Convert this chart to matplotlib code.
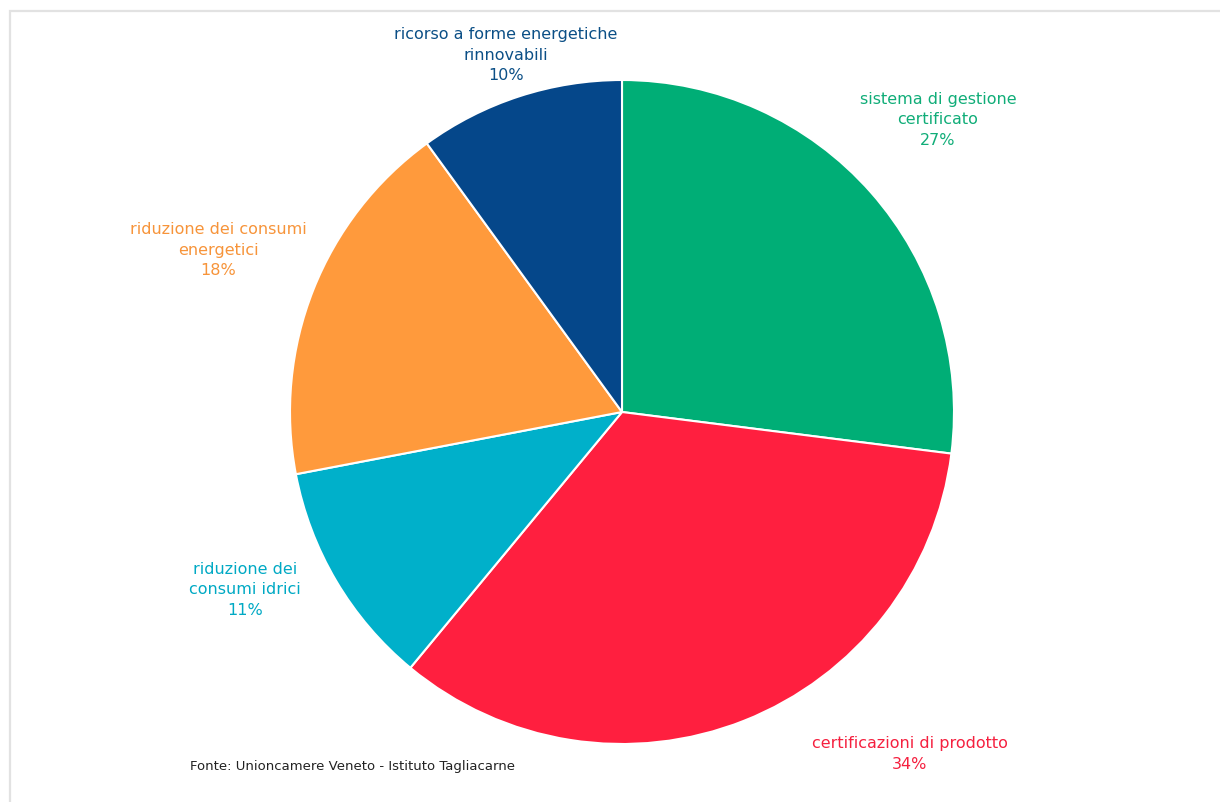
import matplotlib.pyplot as plt
from matplotlib.patches import Rectangle

# Quote delle certificazioni / azioni ambientali
categories = [
    "sistema di gestione\ncertificato",
    "certificazioni di prodotto",
    "riduzione dei\nconsumi idrici",
    "riduzione dei consumi\nenergetici",
    "ricorso a forme energetiche\nrinnovabili",
]
shares = [27, 34, 11, 18, 10]
colors = ["#00ae76", "#ff1f3f", "#00b0ca", "#ff9a3c", "#05478a"]
text_colors = ["#10ad78", "#f5203f", "#00a9c4", "#f7943a", "#0b4f86"]

# label anchors in pixel space (centre of the text block)
label_pos = [(938, 683), (910, 49), (245, 213), (218, 553), (506, 748)]

W, H = 1220, 803
fig = plt.figure(figsize=(W / 100, H / 100), dpi=100)
ax = fig.add_axes([0, 0, 1, 1])

ax.pie(
    shares,
    colors=colors,
    startangle=90,
    counterclock=False,
    center=(622, 390),
    radius=332,
    wedgeprops=dict(edgecolor="white", linewidth=1.5),
    frame=True,
)
ax.set_xlim(0, W)
ax.set_ylim(0, H)
ax.set_aspect("equal")
ax.axis("off")

for cat, val, col, (x, y) in zip(categories, shares, text_colors, label_pos):
    ax.text(x, y, f"{cat}\n{val}%", ha="center", va="center",
            color=col, fontsize=11.5, family="DejaVu Sans",
            linespacing=1.42)

ax.text(190, 36, "Fonte: Unioncamere Veneto - Istituto Tagliacarne",
        ha="left", va="center", fontsize=9.5, color="#222222")

# light frame around the chart area
ax.add_patch(Rectangle((10, -20), 1300, 803 - 12 + 20, fill=False,
                       edgecolor="#e2e2e2", linewidth=1.6, clip_on=False))

fig.savefig("out.png", dpi=100, facecolor="white")
